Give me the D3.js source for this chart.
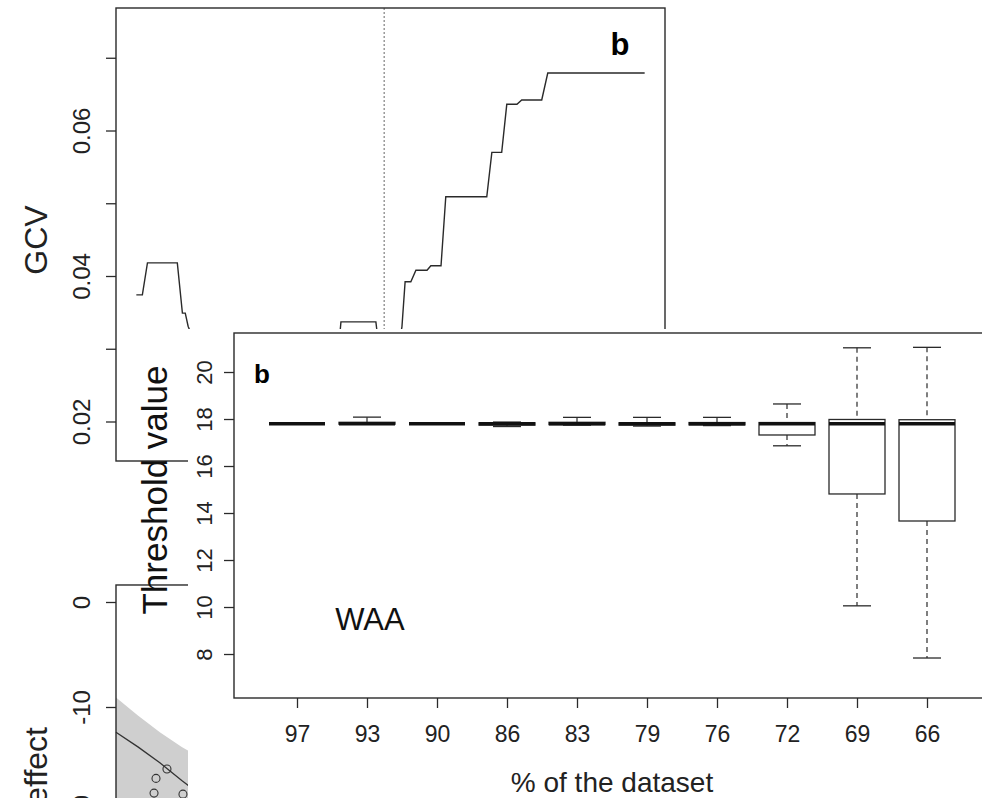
<!DOCTYPE html>
<html lang="en">
  <head>
    <meta charset="utf-8" />
    <title>GCV and threshold value</title>
    <script src="https://cdn.jsdelivr.net/npm/d3@7"></script>
    <style>
      body { margin: 0; background: #fff; }
      svg { display: block; font-family: "Liberation Sans", Arial, sans-serif; }
    </style>
  </head>
  <body>
    <svg id="chart" width="982" height="798" viewBox="0 0 982 798"></svg>
    <script>
      // ---- data ----
      // GCV curve (threshold, GCV) - the part under the lower panel is estimated
      const gcvThreshold = [10.00, 10.19, 10.35, 11.29, 11.45, 11.54, 11.63, 12.0, 12.6, 13.4, 14.3, 15.1, 15.8,
        16.41, 16.44, 17.54, 17.58, 17.7, 17.8, 18.1, 18.36, 18.46, 18.64, 18.80, 19.15, 19.27, 19.59, 19.74,
        21.03, 21.19, 21.50, 21.66, 21.98, 22.13, 22.76, 22.95, 26.00];
      const gcvValue = [0.0374, 0.0374, 0.0418, 0.0418, 0.0349, 0.0349, 0.0331, 0.0290, 0.0262, 0.0240, 0.0231, 0.0244, 0.0278,
        0.0322, 0.0337, 0.0337, 0.0322, 0.0262, 0.0251, 0.0266, 0.0330, 0.0392, 0.0392, 0.0408, 0.0408, 0.0414, 0.0414, 0.0509,
        0.0509, 0.0570, 0.0570, 0.0636, 0.0636, 0.0642, 0.0642, 0.0679, 0.0679];
      const gcvBest = 17.8;
      const gcvTicks = [0.02, 0.03, 0.04, 0.05, 0.06, 0.07];

      // effect panel (mostly hidden)
      const effX = [0, 2, 4, 6, 8];
      const effFit = [-12.4, -13.8, -15.3, -17.0, -18.6];
      const effUpper = [-9.1, -10.8, -12.4, -13.8, -15.0];
      const effLower = [-19.8, -20.5, -21.5, -22.5, -23.5];
      const obsX = [4.65, 3.65, 3.47, 6.11];
      const obsY = [-15.9, -16.8, -18.2, -18.3];
      const effTicks = [0, -10, -20];

      // boxplot of threshold value by % of dataset
      const pctLabels = ["97", "93", "90", "86", "83", "79", "76", "72", "69", "66"];
      const boxMin = [17.8, 17.78, 17.8, 17.68, 17.74, 17.70, 17.72, 16.86, 10.05, 7.83];
      const boxQ1  = [17.8, 17.78, 17.8, 17.74, 17.76, 17.74, 17.75, 17.32, 14.81, 13.66];
      const boxMed = [17.8, 17.80, 17.8, 17.80, 17.80, 17.80, 17.80, 17.80, 17.80, 17.80];
      const boxQ3  = [17.8, 17.86, 17.8, 17.84, 17.86, 17.84, 17.85, 17.85, 17.98, 17.97];
      const boxMax = [17.8, 18.08, 17.8, 17.87, 18.07, 18.07, 18.07, 18.64, 21.03, 21.05];
      const thrTicks = [8, 10, 12, 14, 16, 18, 20];

      const ink = "#2a2a2a";
      const svg = d3.select("#chart");

      // ================= GCV panel =================
      const gx = d3.scaleLinear().domain([9.36, 26.64]).range([116, 665]);
      const gy = d3.scaleLinear().domain([0.01457, 0.07684]).range([461, 8]);
      const gcv = svg.append("g");

      gcv.append("line")
        .attr("x1", gx(gcvBest)).attr("x2", gx(gcvBest))
        .attr("y1", gy.range()[1]).attr("y2", gy.range()[0])
        .attr("stroke", "#666").attr("stroke-width", 1).attr("stroke-dasharray", "2,2");

      gcv.append("path")
        .datum(gcvThreshold.map((t, i) => [t, gcvValue[i]]))
        .attr("d", d3.line().x(d => gx(d[0])).y(d => gy(d[1])))
        .attr("fill", "none").attr("stroke", ink).attr("stroke-width", 1.4);

      gcv.append("rect")
        .attr("x", 116).attr("y", 8).attr("width", 549).attr("height", 453)
        .attr("fill", "none").attr("stroke", ink).attr("stroke-width", 1.4);

      const gAxis = gcv.append("g").attr("transform", "translate(116,0)")
        .call(d3.axisLeft(gy).tickValues(gcvTicks).tickSize(10)
          .tickFormat(d => Math.round(d * 100) % 2 === 0 ? d3.format(".2f")(d) : ""));
      gAxis.select(".domain").remove();
      gAxis.selectAll("line").attr("stroke", ink).attr("stroke-width", 1.3);
      gAxis.selectAll("text")
        .attr("x", 0).attr("dy", 0)
        .attr("transform", "translate(-26,0) rotate(-90)")
        .attr("text-anchor", "middle")
        .style("font-size", "24px").attr("fill", "#222");

      gcv.append("text")
        .attr("transform", "translate(47,240) rotate(-90)")
        .attr("text-anchor", "middle")
        .style("font-size", "32px").attr("fill", "#222")
        .text("GCV");

      gcv.append("text")
        .attr("x", 620).attr("y", 55)
        .attr("text-anchor", "middle")
        .style("font-size", "31px").style("font-weight", "700")
        .text("b");

      // ================= effect panel =================
      const ex = d3.scaleLinear().domain([0, 50]).range([116, 664]);
      const ey = d3.scaleLinear().domain([0, -10]).range([602, 707]);
      const eff = svg.append("g");

      eff.append("path")
        .datum(effX.map((x, i) => [x, effUpper[i], effLower[i]]))
        .attr("d", d3.area().x(d => ex(d[0])).y0(d => ey(d[2])).y1(d => ey(d[1])))
        .attr("fill", "#cfcfcf");

      eff.append("path")
        .datum(effX.map((x, i) => [x, effFit[i]]))
        .attr("d", d3.line().x(d => ex(d[0])).y(d => ey(d[1])))
        .attr("fill", "none").attr("stroke", "#333").attr("stroke-width", 1.3);

      eff.selectAll(".obs")
        .data(obsX.map((x, i) => [x, obsY[i]]))
        .enter().append("circle")
        .attr("class", "obs")
        .attr("cx", d => ex(d[0])).attr("cy", d => ey(d[1])).attr("r", 4)
        .attr("fill", "none").attr("stroke", "#333").attr("stroke-width", 1.1);

      eff.append("rect")
        .attr("x", 116).attr("y", ey(1.62)).attr("width", 548).attr("height", 400)
        .attr("fill", "none").attr("stroke", ink).attr("stroke-width", 1.4);

      const eAxis = eff.append("g").attr("transform", "translate(116,0)")
        .call(d3.axisLeft(ey).tickValues(effTicks).tickSize(10).tickFormat(d => String(d)));
      eAxis.select(".domain").remove();
      eAxis.selectAll("line").attr("stroke", ink).attr("stroke-width", 1.3);
      eAxis.selectAll("text")
        .attr("x", 0).attr("dy", 0)
        .attr("transform", "translate(-26,0) rotate(-90)")
        .attr("text-anchor", "middle")
        .style("font-size", "24px").attr("fill", "#222");

      eff.append("text")
        .attr("transform", "translate(47,727) rotate(-90)")
        .attr("text-anchor", "end")
        .style("font-size", "32px").attr("fill", "#222")
        .text("effect");

      // ================= boxplot panel (pasted on top) =================
      svg.append("rect")
        .attr("x", 188).attr("y", 329).attr("width", 794).attr("height", 469)
        .attr("fill", "#fff");

      const bx = d3.scaleLinear().domain([0.1, 10.9]).range([234, 990]);
      const by = d3.scaleLinear().domain([6.128, 21.66]).range([698, 333]);
      const boxW = bx(0.8) - bx(0);
      const capW = boxW / 2;
      const boxes = pctLabels.map((p, i) => ({
        pos: i + 1, min: boxMin[i], q1: boxQ1[i], med: boxMed[i], q3: boxQ3[i], max: boxMax[i]
      }));

      const bp = svg.append("g");
      const item = bp.selectAll(".box").data(boxes).enter().append("g").attr("class", "box");

      // whiskers
      item.append("line")
        .attr("x1", d => bx(d.pos)).attr("x2", d => bx(d.pos))
        .attr("y1", d => by(d.max)).attr("y2", d => by(d.q3))
        .attr("stroke", ink).attr("stroke-width", 1.2).attr("stroke-dasharray", "5,4");
      item.append("line")
        .attr("x1", d => bx(d.pos)).attr("x2", d => bx(d.pos))
        .attr("y1", d => by(d.q1)).attr("y2", d => by(d.min))
        .attr("stroke", ink).attr("stroke-width", 1.2).attr("stroke-dasharray", "5,4");
      // caps
      item.append("line")
        .attr("x1", d => bx(d.pos) - capW / 2).attr("x2", d => bx(d.pos) + capW / 2)
        .attr("y1", d => by(d.max)).attr("y2", d => by(d.max))
        .attr("stroke", ink).attr("stroke-width", 1.3);
      item.append("line")
        .attr("x1", d => bx(d.pos) - capW / 2).attr("x2", d => bx(d.pos) + capW / 2)
        .attr("y1", d => by(d.min)).attr("y2", d => by(d.min))
        .attr("stroke", ink).attr("stroke-width", 1.3);
      // box
      item.append("rect")
        .attr("x", d => bx(d.pos) - boxW / 2).attr("width", boxW)
        .attr("y", d => by(d.q3)).attr("height", d => by(d.q1) - by(d.q3))
        .attr("fill", "#fff").attr("stroke", ink).attr("stroke-width", 1.3);
      // median
      item.append("line")
        .attr("x1", d => bx(d.pos) - boxW / 2).attr("x2", d => bx(d.pos) + boxW / 2)
        .attr("y1", d => by(d.med)).attr("y2", d => by(d.med))
        .attr("stroke", "#111").attr("stroke-width", 3.6);

      bp.append("rect")
        .attr("x", 234).attr("y", 333).attr("width", 756).attr("height", 365)
        .attr("fill", "none").attr("stroke", ink).attr("stroke-width", 1.4);

      const xAxis = bp.append("g").attr("transform", "translate(0,698)")
        .call(d3.axisBottom(bx).tickValues(boxes.map(d => d.pos)).tickSize(10).tickPadding(18)
          .tickFormat(p => pctLabels[p - 1]));
      xAxis.select(".domain").remove();
      xAxis.selectAll("line").attr("stroke", ink).attr("stroke-width", 1.3);
      xAxis.selectAll("text").style("font-size", "23px").attr("fill", "#222");

      const yAxis = bp.append("g").attr("transform", "translate(234,0)")
        .call(d3.axisLeft(by).tickValues(thrTicks).tickSize(10).tickFormat(d => String(d)));
      yAxis.select(".domain").remove();
      yAxis.selectAll("line").attr("stroke", ink).attr("stroke-width", 1.3);
      yAxis.selectAll("text")
        .attr("x", 0).attr("dy", 0)
        .attr("transform", "translate(-22,0) rotate(-90)")
        .attr("text-anchor", "middle")
        .style("font-size", "22px").attr("fill", "#222");

      bp.append("text")
        .attr("x", bx(5.5)).attr("y", 792)
        .attr("text-anchor", "middle")
        .style("font-size", "28px").attr("fill", "#222")
        .text("% of the dataset");

      bp.append("text")
        .attr("x", 262).attr("y", 383)
        .attr("text-anchor", "middle")
        .style("font-size", "26px").style("font-weight", "700")
        .text("b");

      bp.append("text")
        .attr("x", 370).attr("y", 630)
        .attr("text-anchor", "middle")
        .style("font-size", "31px").attr("fill", "#111")
        .text("WAA");

      svg.append("text")
        .attr("transform", "translate(167,490) rotate(-90)")
        .attr("text-anchor", "middle")
        .style("font-size", "35px").attr("fill", "#111")
        .text("Threshold value");
    </script>
  </body>
</html>
